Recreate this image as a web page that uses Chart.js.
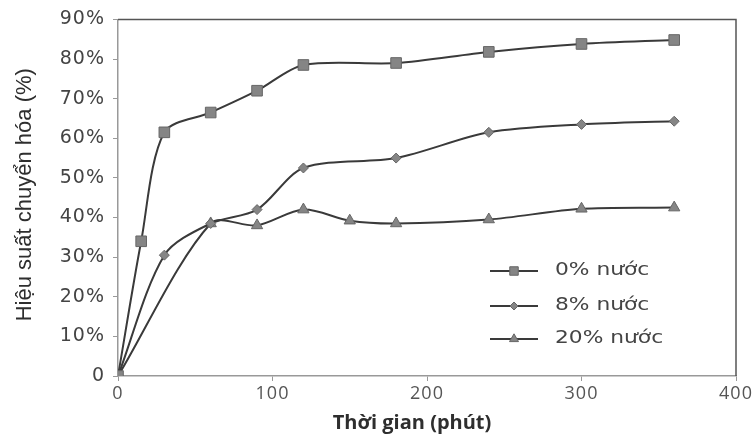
<!DOCTYPE html>
<html>
<head>
<meta charset="utf-8">
<script src="https://cdn.jsdelivr.net/npm/chart.js@4"></script>
<style>
html,body{margin:0;padding:0;background:#fff;}
#wrap{width:755px;height:440px;position:relative;}
</style>
</head>
<body>
<div id="wrap"><canvas id="c" width="755" height="440"></canvas></div>
<script>
const xTicks = [0, 100, 200, 300, 400];
const yTicks = [0, 10, 20, 30, 40, 50, 60, 70, 80, 90];
const labels = ["0% nước", "8% nước", "20% nước"];
const time0 = [0, 15, 30, 60, 90, 120, 180, 240, 300, 360];
const water0 = [0, 34, 61.5, 66.5, 72, 78.5, 79, 81.8, 83.8, 84.8];
const time8 = [0, 30, 60, 90, 120, 180, 240, 300, 360];
const water8 = [0, 30.5, 38.5, 42, 52.5, 55, 61.5, 63.5, 64.3];
const time20 = [0, 60, 90, 120, 150, 180, 240, 300, 360];
const water20 = [0, 38.5, 38, 42, 39.2, 38.5, 39.5, 42.2, 42.5];
const xTitle = "Thời gian (phút)";
const yTitle = "Hiệu suất chuyển hóa (%)";

const pts = (xs, ys) => xs.map((x, i) => ({x: x, y: ys[i]}));
const lineColor = '#3a3a3a';
const markFill = '#858585';
const markBorder = '#666';
const styles = ['rect', 'rectRot', 'triangle'];
const radii = [7.5, 5, 6.5];

const frame = {
  id: 'frame',
  beforeDraw(chart) {
    chart.ctx.letterSpacing = '1px';
  },
  afterDatasetsDraw(chart) {
    const {ctx, chartArea: a} = chart;
    ctx.save();
    ctx.strokeStyle = '#555';
    ctx.lineWidth = 1.5;
    ctx.beginPath();
    ctx.moveTo(a.left, a.top);
    ctx.lineTo(a.right, a.top);
    ctx.lineTo(a.right, a.bottom);
    ctx.stroke();
    ctx.restore();
  },
  afterDraw(chart) {
    const {ctx, chartArea: a} = chart;
    ctx.save();
    // axis titles
    ctx.letterSpacing = '0px';
    ctx.fillStyle = '#2e2e2e';
    ctx.textAlign = 'center';
    ctx.textBaseline = 'middle';
    ctx.font = 'bold 20px "Open Sans"';
    ctx.fillText(xTitle, (a.left + a.right) / 2 - 15, 423);
    ctx.save();
    ctx.translate(25, (a.top + a.bottom) / 2 - 3);
    ctx.rotate(-Math.PI / 2);
    ctx.font = '22px "Liberation Sans"';
    ctx.fillText(yTitle, 0, 0);
    ctx.restore();
    // legend
    const ys = [271, 306, 339];
    chart.data.datasets.forEach((ds, i) => {
      const y = ys[i];
      ctx.strokeStyle = lineColor;
      ctx.lineWidth = 2;
      ctx.beginPath();
      ctx.moveTo(490, y);
      ctx.lineTo(538, y);
      ctx.stroke();
      ctx.fillStyle = markFill;
      ctx.strokeStyle = markBorder;
      ctx.lineWidth = 1;
      Chart.helpers.drawPoint(ctx, {pointStyle: styles[i], radius: radii[i] * 0.8, borderWidth: 1}, 514, y);
      ctx.save();
      ctx.fillStyle = '#444';
      ctx.font = '17px "DejaVu Sans"';
      ctx.textBaseline = 'middle';
      ctx.textAlign = 'left';
      ctx.translate(555, y);
      ctx.scale(1.28, 1);
      ctx.fillText(ds.label, 0, 0);
      ctx.restore();
    });
    ctx.restore();
    ctx.letterSpacing = '0px';
  }
};

const mk = (i, xs, ys) => ({
  label: labels[i],
  data: pts(xs, ys),
  borderColor: lineColor,
  borderWidth: 2,
  backgroundColor: markFill,
  pointBackgroundColor: markFill,
  pointBorderColor: markBorder,
  pointBorderWidth: 1,
  pointStyle: styles[i],
  pointRadius: radii[i],
  tension: 0.3,
  fill: false
});

new Chart(document.getElementById('c'), {
  type: 'line',
  data: {
    datasets: [mk(0, time0, water0), mk(1, time8, water8), mk(2, time20, water20)]
  },
  options: {
    responsive: false,
    animation: false,
    devicePixelRatio: 1,
    layout: {padding: {left: 0, right: 19, top: 16, bottom: 0}},
    plugins: {legend: {display: false}, tooltip: {enabled: false}},
    scales: {
      x: {
        type: 'linear',
        min: 0, max: 400,
        afterBuildTicks(s) { s.ticks = xTicks.map(v => ({value: v})); },
        afterFit(s) { s.height = 64; },
        grid: {display: true, drawOnChartArea: false, drawTicks: true, tickLength: 5, color: '#999'},
        border: {color: '#999', width: 1.5},
        ticks: {color: '#555', font: {family: 'Open Sans', size: 18}, padding: 2},
        title: {display: false, text: xTitle}
      },
      y: {
        min: 0, max: 90,
        afterBuildTicks(s) { s.ticks = yTicks.map(v => ({value: v})); },
        afterFit(s) { s.width = 118; },
        grid: {display: true, drawOnChartArea: false, drawTicks: true, tickLength: 5, color: '#999'},
        border: {color: '#999', width: 1.5},
        ticks: {color: '#444', font: {family: 'DejaVu Sans', size: 19}, padding: 8,
          callback: v => v === 0 ? '0' : v + '%'},
        title: {display: false, text: yTitle}
      }
    }
  },
  plugins: [frame]
});
</script>
</body>
</html>
